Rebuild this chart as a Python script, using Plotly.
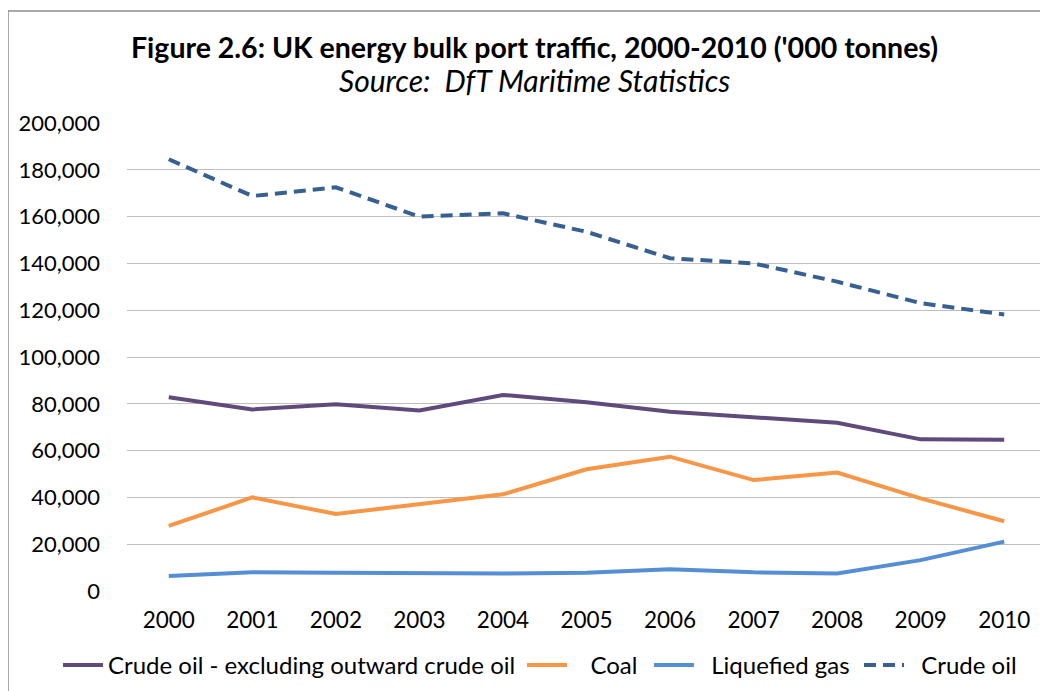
import plotly.graph_objects as go

years = ["2000", "2001", "2002", "2003", "2004", "2005", "2006", "2007", "2008", "2009", "2010"]
crude_excl = [82800, 77600, 79800, 77100, 83800, 80700, 76600, 74200, 71900, 64800, 64600]
coal = [27800, 40000, 32900, 37200, 41300, 52000, 57400, 47400, 50600, 39600, 29800]
lng = [6400, 8000, 7800, 7500, 7500, 7800, 9300, 8000, 7500, 13200, 21100]
crude = [184500, 168800, 172500, 160000, 161400, 153500, 142200, 140000, 132200, 123000, 118200]

series_names = ["Crude oil - excluding outward crude oil", "Coal", "Liquefied gas", "Crude oil"]
y_ticks = [0, 20000, 40000, 60000, 80000, 100000, 120000, 140000, 160000, 180000, 200000]

FONT = "Lato"
OFF = 8  # page body margin in the browser
W, H = 1048 - OFF, 691 - OFF
# plot area in screen pixels
PLOT_TOP, PLOT_BOTTOM, PLOT_LEFT, PLOT_RIGHT = 123, 591, 127, 1046
PH = PLOT_BOTTOM - PLOT_TOP
PW = PLOT_RIGHT - PLOT_LEFT


def py(pix):
    return (PLOT_BOTTOM - pix) / PH


def px(pix):
    return (pix - PLOT_LEFT) / PW


NB = "\u00a0"
fig = go.Figure()
fig.add_trace(go.Scatter(x=years, y=crude_excl, mode="lines", name=series_names[0],
                         legendwidth=409,
                         line=dict(color="#604A7B", width=4)))
fig.add_trace(go.Scatter(x=years, y=coal, mode="lines", name=NB * 3 + series_names[1],
                         legendwidth=72,
                         line=dict(color="#F79646", width=4)))
fig.add_trace(go.Scatter(x=years, y=lng, mode="lines", name=NB * 2 + series_names[2],
                         legendwidth=155,
                         line=dict(color="#558ED5", width=4)))
fig.add_trace(go.Scatter(x=years, y=crude, mode="lines", name=NB * 2 + series_names[3],
                         legendwidth=120,
                         line=dict(color="#376092", width=4, dash="12px,7px")))

fig.update_layout(
    width=W, height=H,
    margin=dict(l=PLOT_LEFT - OFF, r=W - (PLOT_RIGHT - OFF), t=PLOT_TOP - OFF,
                b=H - (PLOT_BOTTOM - OFF), autoexpand=False),
    paper_bgcolor="white", plot_bgcolor="white",
    font=dict(family=FONT, size=22, color="#000000"),
    xaxis=dict(type="category", range=[-0.5, 10.5], showgrid=False, zeroline=False, showline=False,
               ticks="", tickfont=dict(size=22.5), ticklabelstandoff=13, automargin=False),
    yaxis=dict(range=[0, 200000], tickvals=y_ticks, tickformat=",",
               showgrid=True, gridcolor="#BFBFBF", gridwidth=1.3, zeroline=False,
               showline=False, ticks="", tickfont=dict(size=22), ticklabelstandoff=26,
               automargin=False),
    legend=dict(orientation="h", x=px(58), xanchor="left", y=py(643), yanchor="top",
                font=dict(size=24), itemwidth=40, tracegroupgap=0),
    showlegend=True,
)

fig.add_annotation(text="<b>Figure 2.6: UK energy bulk port traffic, 2000-2010 ('000 tonnes)</b>",
                   xref="paper", yref="paper", x=px(534), y=py(47), xanchor="center", yanchor="middle",
                   showarrow=False, font=dict(family=FONT, size=28.5, color="#000000"))
fig.add_annotation(text="<i>Source:  DfT Maritime Statistics</i>",
                   xref="paper", yref="paper", x=px(534), y=py(80), xanchor="center", yanchor="middle",
                   showarrow=False, font=dict(family=FONT, size=30, color="#000000"))

# chart frame (left and top edges)
fig.add_shape(type="line", xref="paper", yref="paper",
              x0=px(8), x1=px(8), y0=py(700), y1=py(11),
              line=dict(color="#8C8C8C", width=1.5))
fig.add_shape(type="line", xref="paper", yref="paper",
              x0=px(8), x1=px(1060), y0=py(11), y1=py(11),
              line=dict(color="#8C8C8C", width=1.5))

fig.write_html("out.html")
